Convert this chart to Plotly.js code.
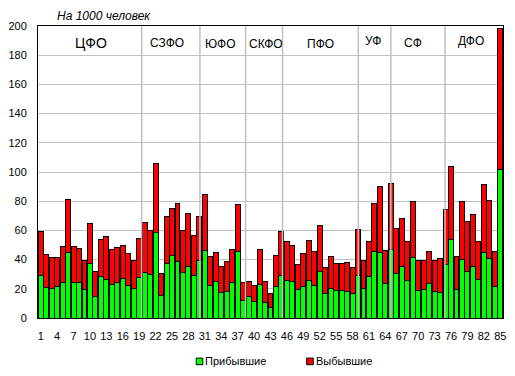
<!DOCTYPE html>
<html>
<head>
<meta charset="utf-8">
<script src="https://cdn.plot.ly/plotly-3.0.1.min.js"></script>
<style>html,body{margin:0;padding:0;background:#fff;}#chart{width:515px;height:376px;}</style>
</head>
<body>
<div id="chart"></div>
<script>
// Region numbers (categories)
const regions = [1,2,3,4,5,6,7,8,9,10,11,12,13,14,15,16,17,18,19,20,21,22,23,24,25,26,27,28,29,30,
  31,32,33,34,35,36,37,38,39,40,41,42,43,44,45,46,47,48,49,50,51,52,53,54,55,56,57,58,59,60,
  61,62,63,64,65,66,67,68,69,70,71,72,73,74,75,76,77,78,79,80,81,82,83,84,85];

// Arrivals per 1000 (green, bottom)
const arrivals = [29,20.8,20.1,21.7,24.2,45.2,24.2,24.2,19.4,37.2,14.6,28.3,26.3,22.8,24,26.9,22.1,20.1,27.6,31,
  30,58.9,15.3,37.2,42.7,38.6,31,35.2,29,39.2,46.2,22.1,24.9,17.4,18,24.2,45.3,11.9,15,11.2,
  22.8,10.5,7.1,21.5,29,25.6,24.9,19.4,21.5,25.6,22.1,31.7,16.7,20.1,18.7,18.7,18,16.7,29,20.1,
  28.3,45.4,44.7,23.5,46.8,30.4,35.2,25.6,41.3,18.7,19.4,23.5,18,17.4,36.5,53.7,19.4,40,31.7,35.2,
  26.3,44.7,40.6,21.5,101.6];

// Departures per 1000 (red, stacked on top)
const departures = [30.4,22.6,21.2,19.6,24.7,35.8,24.7,23.3,19.9,27.6,17.1,25.6,29.4,24.2,24.2,22.6,21.9,19.2,26.7,34.3,
  29.8,46.8,15.5,32.2,32.2,39.9,28.8,36.5,27.4,30.2,38.5,20.1,19.8,17.8,20.7,22.8,32.4,12.3,9.9,10.9,
  24.2,14.4,9.6,21.2,30.4,26.9,24.9,17.4,22.5,27.7,23.6,31.5,17.8,22.1,18.5,18.5,19.9,17.8,31.7,19.2,
  24.2,32.9,45.5,22.8,45.2,30.8,32.8,26.9,38.4,20.6,19.9,22.2,21.3,23.2,37.7,50.2,22.6,39.7,34.5,35.6,
  26.2,46.9,39.8,24.2,96.6];

const xTickVals = [1,4,7,10,13,16,19,22,25,28,31,34,37,40,43,46,49,52,55,58,61,64,67,70,73,76,79,82,85];
const yTickVals = [0,20,40,60,80,100,120,140,160,180,200];

const districts = ["ЦФО","СЗФО","ЮФО","СКФО","ПФО","УФ","СФ","ДФО"];
const districtLabelX = [10.1,24.1,33.9,42.1,52.1,61.8,69.1,79.6];
const districtLabelY = [188.2,188.2,187.6,187.6,187.6,189.9,188.3,189.5];
const districtBorders = [19.45,30.1,38.45,45.2,59.05,65.0,74.9];

const seriesNames = ["Прибывшие","Выбывшие"];
const seriesColors = ["#00ff00","#ff0000"];

const FONT = "Arial, 'Liberation Sans', sans-serif";

const traces = [
  {type:"bar", x:regions, y:arrivals, name:seriesNames[0],
   marker:{color:seriesColors[0], line:{color:"#000", width:1}}, showlegend:false, hoverinfo:"x+y"},
  {type:"bar", x:regions, y:departures, name:seriesNames[1],
   marker:{color:seriesColors[1], line:{color:"#000", width:1}}, showlegend:false, hoverinfo:"x+y"}
];

const shapes = districtBorders.map(b => ({
  type:"line", xref:"x", yref:"paper", x0:b, x1:b, y0:0, y1:1,
  line:{color:"#c0c0c0", width:1.5}, layer:"above"
}));
// manual legend swatches
shapes.push({type:"rect", xref:"paper", yref:"paper", x0:0.3402, x1:0.3544, y0:-0.1599, y1:-0.1373,
  fillcolor:seriesColors[0], line:{color:"#000", width:1}});
shapes.push({type:"rect", xref:"paper", yref:"paper", x0:0.5778, x1:0.5920, y0:-0.1599, y1:-0.1373,
  fillcolor:seriesColors[1], line:{color:"#000", width:1}});

const annotations = districts.map((d,i) => ({
  text:d, x:districtLabelX[i], y:districtLabelY[i], xref:"x", yref:"y",
  showarrow:false, xanchor:"center", yanchor:"middle",
  font:{family:FONT, size: i===0 ? 14 : 12, color:"#000"}
}));
annotations.push({text:"<i>На 1000 человек</i>", xref:"paper", yref:"paper", x:0.0366, y:1.033,
  xanchor:"left", yanchor:"middle", showarrow:false, font:{family:FONT, size:12, color:"#000"}});
annotations.push({text:seriesNames[0], xref:"paper", yref:"paper", x:0.3548, y:-0.148,
  xanchor:"left", yanchor:"middle", showarrow:false, font:{family:FONT, size:11, color:"#000"}});
annotations.push({text:seriesNames[1], xref:"paper", yref:"paper", x:0.5935, y:-0.148,
  xanchor:"left", yanchor:"middle", showarrow:false, font:{family:FONT, size:11, color:"#000"}});

const layout = {
  width:515, height:376,
  margin:{l:38, r:12, t:26, b:58, pad:0},
  barmode:"stack", bargap:0.1,
  paper_bgcolor:"#fff", plot_bgcolor:"#fff",
  showlegend:false,
  font:{family:FONT, size:11, color:"#000"},
  xaxis:{range:[0.5,85.5], tickmode:"array", tickvals:xTickVals, ticktext:xTickVals.map(String),
    showgrid:false, zeroline:false, showline:true, mirror:true, linecolor:"#000", linewidth:1,
    ticks:"", ticklabelstandoff:8, tickfont:{family:FONT, size:11, color:"#000"}, fixedrange:true},
  yaxis:{range:[0,200], tickmode:"array", tickvals:yTickVals,
    showgrid:true, gridcolor:"#c0c0c0", gridwidth:1, zeroline:false,
    showline:true, mirror:true, linecolor:"#000", linewidth:1,
    ticks:"", ticklabelstandoff:8, tickfont:{family:FONT, size:11, color:"#000"}, fixedrange:true},
  shapes:shapes, annotations:annotations
};

Plotly.newPlot("chart", traces, layout, {displayModeBar:false, staticPlot:true});
</script>
</body>
</html>
